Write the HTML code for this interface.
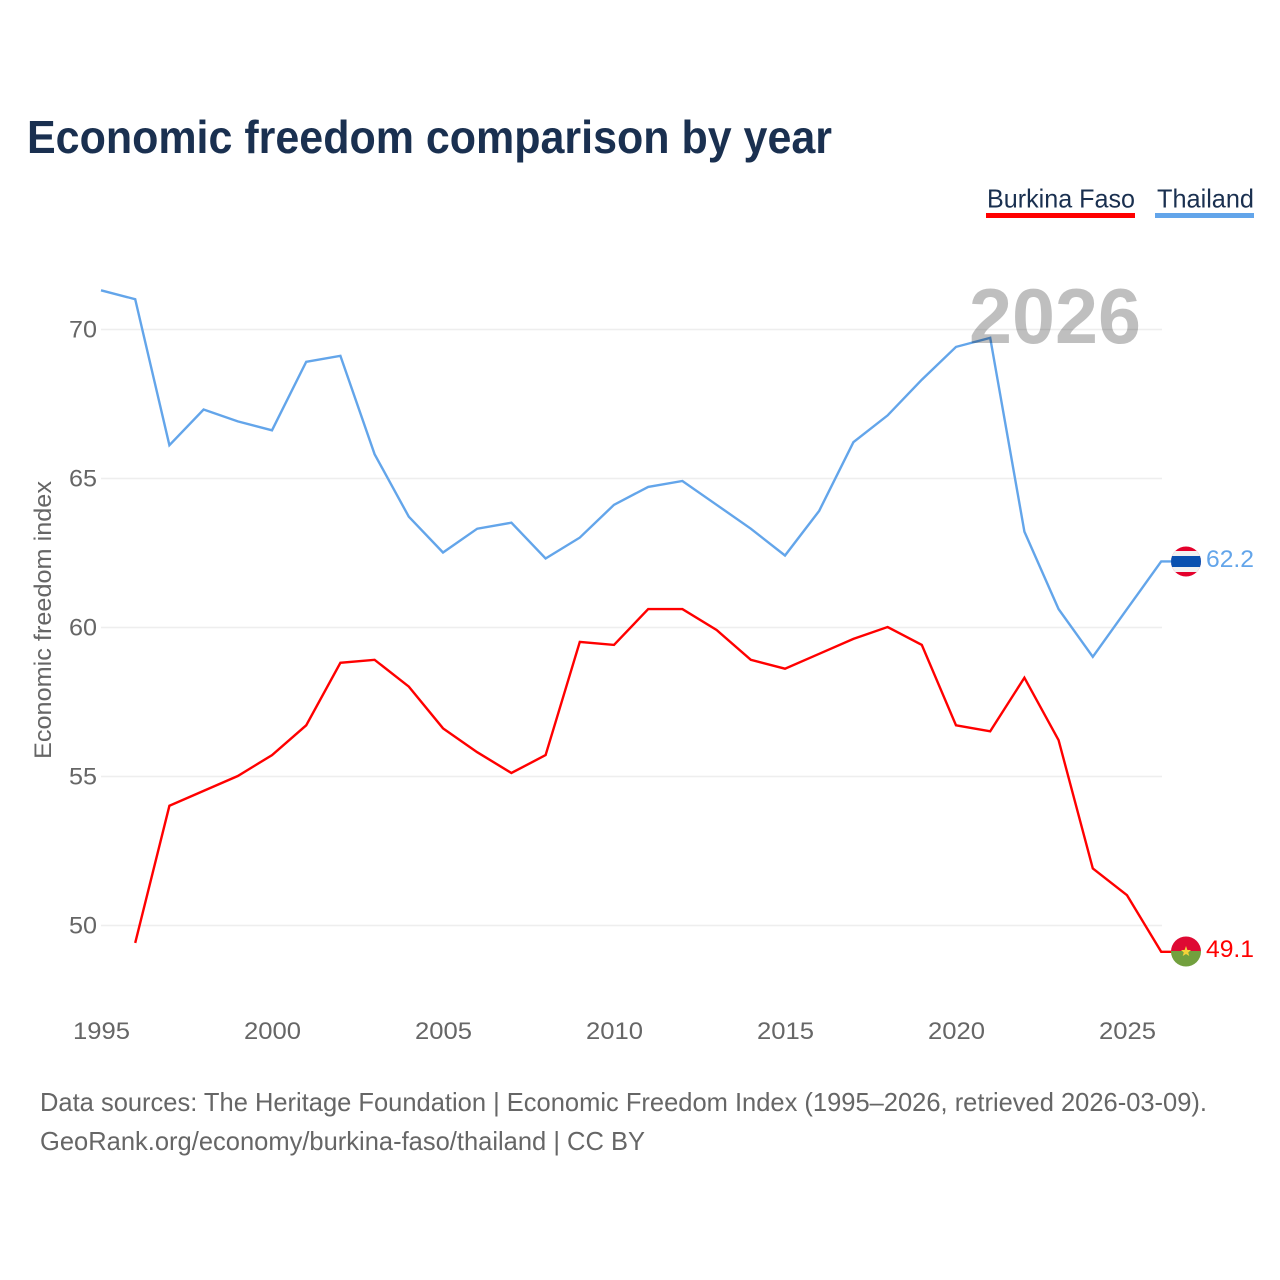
<!DOCTYPE html>
<html lang="en">
<head>
<meta charset="utf-8">
<title>Economic freedom comparison by year</title>
<style>
html,body{margin:0;padding:0;background:#fff;width:1280px;height:1280px;overflow:hidden}
svg{display:block}
text{font-family:"Liberation Sans",sans-serif}
.tick{font-size:24px;fill:#666}
.foot{font-size:26px;fill:#666}
.leg{font-size:26px;fill:#1a3050}
</style>
</head>
<body>
<svg id="chart" width="1280" height="1280" viewBox="0 0 1280 1280" xmlns="http://www.w3.org/2000/svg">
  <defs>
    <clipPath id="clip-th"><circle cx="1186" cy="561.500" r="15"/></clipPath>
    <clipPath id="clip-bf"><circle cx="1186" cy="951.500" r="15"/></clipPath>
  </defs>
  <text x="27" y="153" font-size="46" font-weight="700" fill="#1a3050" textLength="805" lengthAdjust="spacingAndGlyphs">Economic freedom comparison by year</text>

  <g>
    <text class="leg" x="987" y="207.500" textLength="148" lengthAdjust="spacingAndGlyphs">Burkina Faso</text>
    <rect x="986" y="213" width="149" height="5" fill="#ff0000"/>
  </g>
  <g>
    <text class="leg" x="1157" y="207.500" textLength="97" lengthAdjust="spacingAndGlyphs">Thailand</text>
    <rect x="1155" y="213" width="99" height="5" fill="#63a5ea"/>
  </g>

  <g id="grid"></g>
  <g id="y-ticks"></g>
  <g id="x-ticks"></g>
  <text class="tick" transform="translate(51,620) rotate(-90)" text-anchor="middle" textLength="278" lengthAdjust="spacingAndGlyphs">Economic freedom index</text>

  <g id="series"></g>

  <text x="1141" y="343" text-anchor="end" font-size="78" font-weight="700" fill="#000" fill-opacity="0.25" textLength="172" lengthAdjust="spacingAndGlyphs">2026</text>

  <g clip-path="url(#clip-th)">
    <rect x="1171" y="546" width="30" height="31" fill="#e4002b"/>
    <rect x="1171" y="551" width="30" height="21" fill="#f2f2f2"/>
    <rect x="1171" y="556" width="30" height="11" fill="#0a50b0"/>
  </g>
  <g clip-path="url(#clip-bf)">
    <rect x="1171" y="936" width="30" height="15" fill="#de0a33"/>
    <rect x="1171" y="951" width="30" height="16" fill="#72a03e"/>
    <polygon points="1186,946 1187.400,950 1191,950 1188.200,952.500 1189.300,956 1186,954 1182.700,956 1183.800,952.500 1181,950 1184.600,950" fill="#f5d33a"/>
  </g>
  <text id="value-th" x="1206" y="567" font-size="24" fill="#63a5ea" textLength="48" lengthAdjust="spacingAndGlyphs"></text>
  <text id="value-bf" x="1206" y="957" font-size="24" fill="#ff0000" textLength="48" lengthAdjust="spacingAndGlyphs"></text>

  <text class="foot" x="40" y="1111" textLength="1167" lengthAdjust="spacingAndGlyphs">Data sources: The Heritage Foundation | Economic Freedom Index (1995–2026, retrieved 2026-03-09).</text>
  <text class="foot" x="40" y="1150" textLength="605" lengthAdjust="spacingAndGlyphs">GeoRank.org/economy/burkina-faso/thailand | CC BY</text>
</svg>
<script>
var years = [1995,1996,1997,1998,1999,2000,2001,2002,2003,2004,2005,2006,2007,2008,2009,2010,2011,2012,2013,2014,2015,2016,2017,2018,2019,2020,2021,2022,2023,2024,2025,2026];
var thailand = [71.3,71.0,66.1,67.3,66.9,66.6,68.9,69.1,65.8,63.7,62.5,63.3,63.5,62.3,63.0,64.1,64.7,64.9,64.1,63.3,62.4,63.9,66.2,67.1,68.3,69.4,69.7,63.2,60.6,59.0,60.6,62.2];
var burkinaFaso = [null,49.4,54.0,54.5,55.0,55.7,56.7,58.8,58.9,58.0,56.6,55.8,55.1,55.7,59.5,59.4,60.6,60.6,59.9,58.9,58.6,59.1,59.6,60.0,59.4,56.7,56.5,58.3,56.2,51.9,51.0,49.1];
var yTickValues = [50,55,60,65,70];
var xTickValues = [1995,2000,2005,2010,2015,2020,2025];

var NS = 'http://www.w3.org/2000/svg';
function xScale(year){ return 101 + (year - 1995) * 34.2; }
function yScale(v){ return 925 - (v - 50) * 29.8; }
function make(tag, parent){
  var el = document.createElementNS(NS, tag);
  parent.appendChild(el);
  return el;
}

var gridGroup = document.getElementById('grid');
var yGroup = document.getElementById('y-ticks');
var xGroup = document.getElementById('x-ticks');
var seriesGroup = document.getElementById('series');

yTickValues.forEach(function(v){
  var line = make('line', gridGroup);
  
  
  line.setAttribute('x1', 101);
  line.setAttribute('x2', 1162);
  line.setAttribute('y1', yScale(v) + 0.5);
  line.setAttribute('y2', yScale(v) + 0.5);
  line.setAttribute('stroke', '#eeeeee');
  line.setAttribute('stroke-width', '1.500');
  var label = make('text', yGroup);
  
  
  label.setAttribute('class', 'tick');
  label.setAttribute('x', 97);
  label.setAttribute('y', yScale(v) + 8.5);
  label.setAttribute('text-anchor', 'end');
  label.setAttribute('textLength', 28);
  label.setAttribute('lengthAdjust', 'spacingAndGlyphs');
  label.textContent = v;
});

xTickValues.forEach(function(year){
  var label = make('text', xGroup);
  
  
  label.setAttribute('class', 'tick');
  label.setAttribute('x', xScale(year) + 0.5);
  label.setAttribute('y', 1039);
  label.setAttribute('text-anchor', 'middle');
  label.setAttribute('textLength', 57);
  label.setAttribute('lengthAdjust', 'spacingAndGlyphs');
  label.textContent = year;
});

function pathFor(values, endX){
  var d = '';
  var lastY = 0;
  values.forEach(function(v, i){
    if (v === null) return;
    lastY = yScale(v);
    d += (d ? 'L' : 'M') + xScale(years[i]).toFixed(1) + ' ' + lastY.toFixed(1);
  });
  return d + 'L' + endX + ' ' + lastY.toFixed(1);
}

var lineBf = make('path', seriesGroup);


lineBf.setAttribute('d', pathFor(burkinaFaso, 1172));
lineBf.setAttribute('fill', 'none');
lineBf.setAttribute('stroke', '#ff0000');
lineBf.setAttribute('stroke-width', '2.400');

var lineTh = make('path', seriesGroup);


lineTh.setAttribute('d', pathFor(thailand, 1172));
lineTh.setAttribute('fill', 'none');
lineTh.setAttribute('stroke', '#63a5ea');
lineTh.setAttribute('stroke-width', '2.400');

document.getElementById('value-th').textContent = thailand[thailand.length - 1].toFixed(1);
document.getElementById('value-bf').textContent = burkinaFaso[burkinaFaso.length - 1].toFixed(1);
</script>
</body>
</html>
